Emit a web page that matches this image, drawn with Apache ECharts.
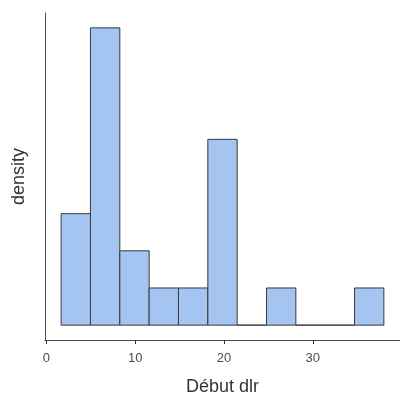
<!DOCTYPE html>
<html>
<head>
<meta charset="utf-8">
<script src="https://cdn.jsdelivr.net/npm/echarts@6/dist/echarts.min.js"></script>
<style>html,body{margin:0;padding:0;background:#fff}#c{width:400px;height:394px}</style>
</head>
<body>
<div id="c"></div>
<script>
// Histogram bins (Début dlr) and counts
var binStart = 1.65;
var binWidth = 3.305;
var counts = [3, 8, 2, 1, 1, 5, 0, 1, 0, 0, 1];
var xTicks = [0, 10, 20, 30];
var total = counts.reduce(function(a, b){ return a + b; }, 0);

var data = counts.map(function(c, i){
  var lo = binStart + i * binWidth;
  return [lo, lo + binWidth, c / (total * binWidth)];
});
var maxD = Math.max.apply(null, data.map(function(d){ return d[2]; }));
var xLo = binStart, xHi = binStart + counts.length * binWidth;
var xPad = (xHi - xLo) * 0.05;

var axisFont = 'Liberation Sans, Arial';
var chart = echarts.init(document.getElementById('c'), null, {renderer: 'canvas'});
chart.setOption({
  animation: false,
  grid: {left: 45, right: 0, top: 13, bottom: 54, containLabel: false, outerBoundsMode: 'none'},
  xAxis: {
    type: 'value',
    min: xLo - xPad, max: xHi + xPad,
    splitLine: {show: false},
    axisLine: {show: true, onZero: false, lineStyle: {color: '#4d4d4d', width: 1}},
    axisTick: {show: true, inside: false, length: 4, customValues: xTicks, lineStyle: {color: '#333333', width: 1}},
    axisLabel: {
      color: '#4d4d4d', fontSize: 13, fontFamily: axisFont, margin: 12,
      customValues: xTicks
    },
    name: 'Début dlr', nameLocation: 'middle', nameGap: 38,
    nameTextStyle: {color: '#333', fontSize: 18, fontFamily: axisFont}
  },
  yAxis: {
    type: 'value',
    min: -maxD * 0.05, max: maxD * 1.05,
    splitLine: {show: false},
    axisLine: {show: true, onZero: false, lineStyle: {color: '#4d4d4d', width: 1}},
    axisTick: {show: false},
    axisLabel: {show: false},
    name: 'density', nameLocation: 'middle', nameGap: 17,
    nameTextStyle: {color: '#333', fontSize: 18, fontFamily: axisFont}
  },
  series: [{
    type: 'custom',
    data: data,
    renderItem: function(params, api){
      var lo = api.value(0), hi = api.value(1), d = api.value(2);
      var p0 = api.coord([lo, 0]);
      var p1 = api.coord([hi, d]);
      return {
        type: 'rect',
        shape: {x: p0[0], y: p1[1], width: p1[0] - p0[0], height: p0[1] - p1[1]},
        style: {fill: '#a4c4f2', stroke: '#3a3a3a', lineWidth: 1}
      };
    },
    encode: {x: [0, 1], y: 2}
  }]
});
</script>
</body>
</html>
